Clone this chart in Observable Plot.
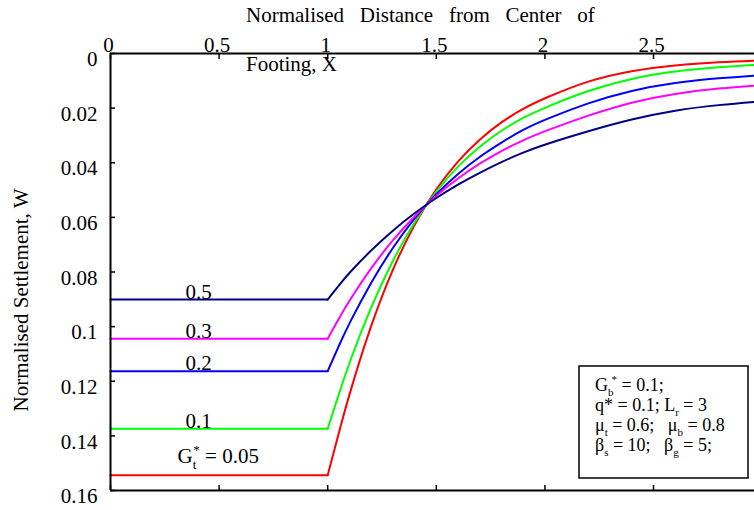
<!DOCTYPE html>
<html>
<head>
<meta charset="utf-8">
<script src="https://cdn.jsdelivr.net/npm/d3@7"></script>
<script src="https://cdn.jsdelivr.net/npm/@observablehq/plot@0.6"></script>
<style>
  html, body { margin: 0; padding: 0; background: #fff; overflow: hidden; }
  #chart svg { display: block; max-width: none; }
  #chart svg, #chart svg text, #chart svg tspan {
    font-family: "Liberation Serif", "Times New Roman", Tinos, "DejaVu Serif", serif !important;
    white-space: pre;
  }
</style>
</head>
<body>
<div id="chart"></div>
<script>
// Tick values of the two axes
const xTicks = [0, 0.5, 1, 1.5, 2, 2.5];
const yTicks = [0, 0.02, 0.04, 0.06, 0.08, 0.1, 0.12, 0.14, 0.16];

// Top-layer shear modulus ratio Gt* of each curve
const gtLabels = ["0.05", "0.1", "0.2", "0.3", "0.5"];

// Under the footing (X from 0 to 1) the settlement is uniform
const footingSpan = [0, 1];

// Normalised distance X beyond the footing edge
const distance = [1, 1.05, 1.1, 1.2, 1.3, 1.4, 1.5, 1.6, 1.7, 1.8, 1.9, 2.0, 2.2, 2.4, 2.6, 2.8, 3.0];

// Normalised settlement W at each distance, one list per Gt*
const settleG005 = [0.1544, 0.1392, 0.1245, 0.0990, 0.0785, 0.0622, 0.0493, 0.0392, 0.0313, 0.0250, 0.0201, 0.0163, 0.0098, 0.0062, 0.0042, 0.0031, 0.0025];
const settleG01  = [0.1374, 0.1250, 0.1130, 0.0925, 0.0755, 0.0614, 0.0502, 0.0411, 0.0339, 0.0281, 0.0234, 0.0198, 0.0134, 0.0090, 0.0064, 0.0049, 0.0040];
const settleG02  = [0.1163, 0.1072, 0.0986, 0.0836, 0.0709, 0.0602, 0.0513, 0.0439, 0.0377, 0.0326, 0.0278, 0.0242, 0.0180, 0.0134, 0.0106, 0.0090, 0.0079];
const settleG03  = [0.1044, 0.0972, 0.0904, 0.0784, 0.0682, 0.0595, 0.0519, 0.0456, 0.0402, 0.0356, 0.0317, 0.0284, 0.0226, 0.0177, 0.0146, 0.0127, 0.0116];
const settleG05  = [0.0901, 0.0850, 0.0802, 0.0720, 0.0647, 0.0584, 0.0528, 0.0479, 0.0436, 0.0397, 0.0362, 0.0333, 0.0284, 0.0240, 0.0207, 0.0188, 0.0175];

const palette = ["#ff0000", "#00ff00", "#0000ff", "#ff00ff", "#000080"];

const seriesW = [settleG005, settleG01, settleG02, settleG03, settleG05];
const curveRows = seriesW.flatMap((ws, i) => ws.map((w, j) => ({series: gtLabels[i], x: distance[j], w})));
const flatRows = seriesW.flatMap((ws, i) => footingSpan.map(x => ({series: gtLabels[i], x, w: ws[0]})));
const labelRows = seriesW.map((ws, i) => ({series: gtLabels[i], w: ws[0], text: i === 0 ? "Gt* = 0.05" : gtLabels[i]}));

const W = 754, H = 510;
const mTop = 53, mBottom = 20, mLeft = 110;
const serif = "'Liberation Serif', 'Times New Roman', Tinos, 'DejaVu Serif', serif";

const plot = Plot.plot({
  width: W,
  height: H,
  marginTop: mTop,
  marginBottom: mBottom,
  marginLeft: mLeft,
  marginRight: 0,
  style: {fontFamily: serif, fontSize: "21px", background: "#fff", color: "#000", overflow: "hidden"},
  x: {domain: [0, 2.965]},
  y: {domain: [0, 0.16], reverse: true},
  color: {domain: gtLabels, range: palette},
  marks: [
    Plot.axisX(xTicks, {anchor: "top", tickSize: 0, tickPadding: 2, dx: -2, tickFormat: d => String(d), label: null, fontFamily: serif}),
    Plot.axisX(xTicks, {anchor: "top", tickSize: -5, tickFormat: () => "", label: null, strokeWidth: 1.5}),
    Plot.axisX(xTicks, {anchor: "bottom", tickSize: -5, tickFormat: () => "", label: null, strokeWidth: 1.5}),
    Plot.axisY(yTicks, {anchor: "left", tickSize: 0, tickPadding: 13, dy: 6, tickFormat: d => String(d), label: null, fontFamily: serif}),
    Plot.axisY(yTicks, {anchor: "left", tickSize: -5, tickFormat: () => "", label: null, strokeWidth: 1.5}),
    Plot.line(flatRows, {x: "x", y: "w", z: "series", stroke: "series", strokeWidth: 2}),
    Plot.line(curveRows, {x: "x", y: "w", z: "series", stroke: "series", strokeWidth: 2, curve: "basis", clip: true}),
    Plot.ruleX([0], {strokeWidth: 2}),
    Plot.ruleY([0, 0.16], {strokeWidth: 2}),
    Plot.text(labelRows.slice(1), {frameAnchor: "left", y: "w", text: "text", dx: 75, dy: -1, lineAnchor: "bottom", textAnchor: "start", fontFamily: serif}),
    Plot.text(labelRows.slice(0, 1), {frameAnchor: "left", y: "w", text: "text", dx: 67, dy: -12, lineAnchor: "bottom", textAnchor: "start", fontFamily: serif})
  ]
});

document.getElementById("chart").appendChild(plot);

const svg = d3.select(plot);

// Writes text parts with subscripts and superscripts as tspans
function richText(sel, parts, size) {
  let shift = 0;
  parts.forEach(([t, role, dx]) => {
    const target = role === "sub" ? 0.28 * size : role === "sup" ? -0.42 * size : 0;
    const tsp = sel.append("tspan").text(t).attr("dy", target - shift);
    if (role) tsp.attr("font-size", Math.round(size * 0.62));
    if (dx) tsp.attr("dx", dx);
    shift = target;
  });
}

// Gt* label on the lowest curve
svg.selectAll("text").filter(function () { return this.textContent === "Gt* = 0.05"; })
  .each(function () {
    const t = d3.select(this);
    t.text("");
    richText(t, [["G"], ["t", "sub"], ["*", "sup", -3], [" = 0.05"]], 21);
  });

// x-axis title, split over two lines around the top axis
svg.append("text").attr("x", 246).attr("y", 22).attr("font-size", 21).attr("text-anchor", "start")
  .attr("font-family", serif)
  .text("Normalised   Distance   from   Center   of");
svg.append("text").attr("x", 246).attr("y", 71).attr("font-size", 21).attr("text-anchor", "start")
  .attr("font-family", serif)
  .text("Footing, X");

// y-axis title
svg.append("text")
  .attr("transform", `translate(28, 300) rotate(-90)`)
  .attr("text-anchor", "middle").attr("font-size", 21).attr("font-family", serif)
  .text("Normalised Settlement, W");

// Parameter box
const box = svg.append("g").attr("transform", `translate(${W - 175}, ${H - mBottom - 124})`);
box.append("rect").attr("width", 169).attr("height", 112)
  .attr("fill", "#fff").attr("stroke", "#000").attr("stroke-width", 1.5);
const boxLines = [
  [["G"], ["b", "sub"], ["*", "sup", -2], [" = 0.1;"]],
  [["q* = 0.1; L"], ["r", "sub"], [" = 3"]],
  [["μ"], ["t", "sub"], [" = 0.6;   μ"], ["b", "sub"], [" = 0.8"]],
  [["β"], ["s", "sub"], [" = 10;   β"], ["g", "sub"], [" = 5;"]]
];
boxLines.forEach((parts, i) => {
  const t = box.append("text").attr("x", 16).attr("y", 25 + i * 20)
    .attr("font-size", 18).attr("text-anchor", "start").attr("font-family", serif);
  richText(t, parts, 18);
});
</script>
</body>
</html>
